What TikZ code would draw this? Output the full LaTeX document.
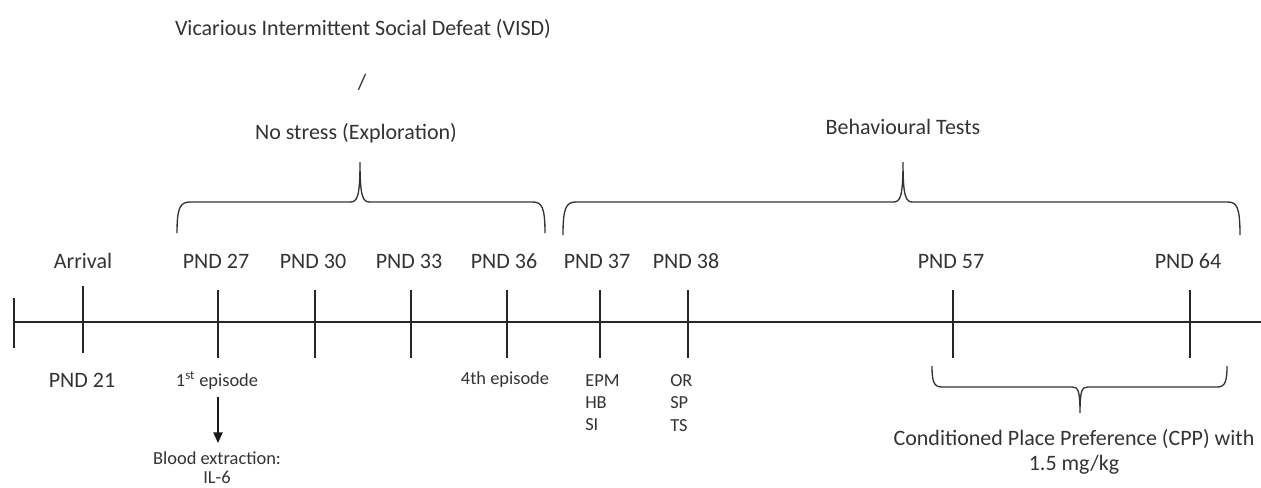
\documentclass[tikz,border=0pt]{standalone}
\usepackage{fontspec}
\setmainfont{Carlito}
\usetikzlibrary{arrows.meta}
\definecolor{txt}{HTML}{333333}
\tikzset{
  x=0.75pt, y=-0.75pt,
  lbl/.style={font=\fontsize{16.5}{19}\selectfont, text=txt, inner sep=0pt, anchor=center},
  day/.style={lbl, anchor=base},
  sml/.style={font=\fontsize{13.8}{16.5}\selectfont, text=txt, inner sep=0pt},
  axis/.style={line width=1pt, draw=black!85},
  tick/.style={line width=1pt, draw=black!85},
  brace/.style={line width=1pt, draw=black!80},
}
\begin{document}
\begin{tikzpicture}
\useasboundingbox (0,0) rectangle (1261,487);
% axis
\coordinate (a0) at (14,322);
\coordinate (a1) at (1265,322);
\draw[axis] (a0) -- (a1);
% ticks
\draw[tick] (14,298) -- (14,348);
\draw[tick] (83,286) -- (83,353);
\foreach \x in {218,315,411,507,600,688,953,1190}
  \draw[tick] (\x,290) -- (\x,358);
% top labels
\node[day] (arr) at (83,268) {Arrival};
\node[day] (p27) at (216,268) {PND 27};
\node[day] (p30) at (313,268) {PND 30};
\node[day] (p33) at (409,268) {PND 33};
\node[day] (p36) at (504,268) {PND 36};
\node[day] (p37) at (597,268) {PND 37};
\node[day] (p38) at (686,268) {PND 38};
\node[day] (p57) at (951,268) {PND 57};
\node[day] (p64) at (1188,268) {PND 64};
% bottom labels
\node[day] (p21) at (82,387) {PND 21};
\node[sml] (ep1) at (217,380) {1\textsuperscript{st} episode};
\node[sml] (ep4) at (505,380) {4th episode};
\node[sml, anchor=north west, align=left, font=\fontsize{13.8}{16.8}\selectfont] (t37) at (585,374) {EPM\\HB\\SI};
\node[sml, anchor=north west, align=left, font=\fontsize{13.8}{16.8}\selectfont] (t38) at (670,374) {OR\\SP\\TS};
\node[sml] (blood) at (217,458) {Blood extraction:};
\node[sml] (il6) at (217,477) {IL-6};
\draw[line width=1pt, black!90, -{Triangle[length=8pt,width=7pt]}] (218,397) -- (218,443);
% top texts
\node[lbl] (visd) at (363,29) {Vicarious Intermittent Social Defeat (VISD)};
\node[lbl] (slash) at (362,82) {/};
\node[lbl] (nos) at (356,133) {No stress (Exploration)};
\node[lbl] (beh) at (903,127) {Behavioural Tests};
% braces
\draw[brace] (177,233) .. controls (177,208) and (180,202) .. (190,202) -- (350,202)
  .. controls (357,202) and (360,198) .. (360,162)
  .. controls (360,198) and (363,202) .. (370,202) -- (533,202)
  .. controls (542,202) and (545,208) .. (545,233);
\draw[brace] (563,235) .. controls (563,208) and (566,202) .. (576,202) -- (893,202)
  .. controls (900,202) and (903,198) .. (903,162)
  .. controls (903,198) and (906,202) .. (913,202) -- (1228,202)
  .. controls (1237,202) and (1240,208) .. (1240,235);
% bottom brace
\draw[brace] (932,366) .. controls (932,382) and (934,387) .. (942,387) -- (1072,387)
  .. controls (1078,387) and (1080,390) .. (1080,413)
  .. controls (1080,390) and (1082,387) .. (1088,387) -- (1217,387)
  .. controls (1225,387) and (1227,382) .. (1227,366);
\node[lbl, align=center] (cpp) at (1074,452) {Conditioned Place Preference (CPP) with\\1.5 mg/kg};
\end{tikzpicture}
\end{document}
